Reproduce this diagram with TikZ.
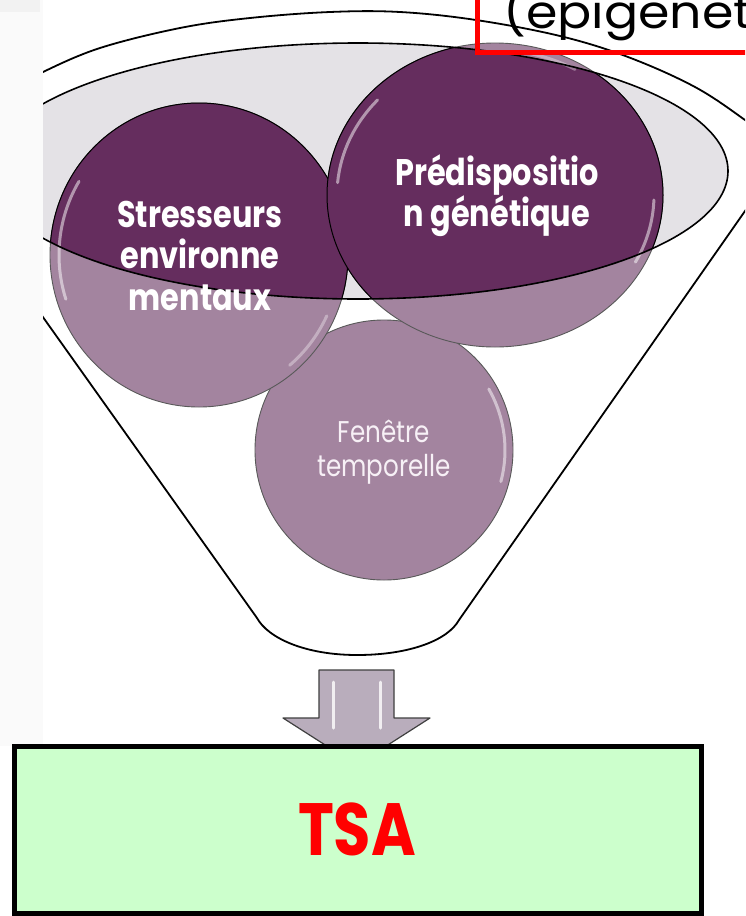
\documentclass[tikz,border=0pt]{standalone}
\usepackage{fontspec}
\newfontfamily\gothic{Poppins}[FakeStretch=0.82]
\newfontfamily\gothicw{Poppins}[FakeStretch=1.1]
\definecolor{darkplum}{HTML}{652D5E}
\definecolor{lightplum}{HTML}{A3849F}
\definecolor{rimgrey}{HTML}{E4E2E6}
\definecolor{stripgrey}{HTML}{FAFAFA}
\definecolor{arrowgrey}{HTML}{B9ADBC}
\definecolor{boxgreen}{HTML}{CCFFCC}
\definecolor{palelabel}{HTML}{F7F0F6}
\tikzset{
  funnelline/.style={draw=black, line width=1.8pt},
  balloutline/.style={draw=black!65, line width=0.9pt},
  shine/.style={draw=white, line width=3pt, opacity=0.5, line cap=round},
  boldlabel/.style={text=white, font=\gothic\bfseries\fontsize{37}{41}\selectfont, anchor=base, inner sep=0pt},
  thinlabel/.style={text=palelabel, font=\gothic\fontsize{30}{34}\selectfont, anchor=base, inner sep=0pt},
}
\begin{document}
\begin{tikzpicture}[x=1pt,y=-1pt]
\useasboundingbox (0,0) rectangle (745,916);
\clip (0,0) rectangle (745,916);
\fill[white] (0,0) rectangle (745,916);
\fill[stripgrey] (0,0) rectangle (43,746);
\fill[black!5] (0,0) rectangle (40,12);
\coordinate (cs) at (199,255);
\coordinate (cp) at (495,195);
\coordinate (cf) at (384,450);
\coordinate (co) at (358,171);
\begin{scope}
  \clip (43,0) rectangle (745,746);
  % opening of the funnel
  \fill[rimgrey] (co) ellipse [x radius=370, y radius=128];
  % balls, light part
  \path[fill=lightplum, balloutline] (cf) ellipse [x radius=129, y radius=130];
  \path[fill=lightplum, balloutline] (cs) ellipse [x radius=149, y radius=152];
  \path[fill=lightplum, balloutline] (cp) ellipse [x radius=168, y radius=152];
  % balls, part seen through the opening
  \begin{scope}
    \clip (co) ellipse [x radius=370, y radius=128];
    \path[fill=darkplum, draw=black, line width=1pt] (cs) ellipse [x radius=149, y radius=152];
    \path[fill=darkplum, draw=black, line width=1pt] (cp) ellipse [x radius=168, y radius=152];
  \end{scope}
  % shine
  \draw[shine] (cs) ++(211:140 and 143) arc[start angle=211, end angle=162, x radius=140, y radius=143];
  \draw[shine, opacity=0.35] (cs) ++(25:141 and 144) arc[start angle=25, end angle=50, x radius=141, y radius=144];
  \draw[shine] (cp) ++(222:158 and 142) arc[start angle=222, end angle=185, x radius=158, y radius=142];
  \draw[shine] (cp) ++(2:159 and 143) arc[start angle=2, end angle=28, x radius=159, y radius=143];
  \draw[shine, opacity=0.35] (cp) ++(-60:160 and 145) arc[start angle=-60, end angle=-80, x radius=160, y radius=145];
  \draw[shine] (cf) ++(-30:121 and 122) arc[start angle=-30, end angle=15, x radius=121, y radius=122];
  % opening outline
  \draw[funnelline, line width=1.6pt] (co) ellipse [x radius=370, y radius=128];
  % rim
  \draw[funnelline] plot[smooth, tension=0.6] coordinates {(20,86) (43,72) (100,48) (180,28) (250,18) (330,12) (400,12) (476,20) (560,36) (628,57) (695,87) (745,120) (770,140)};
  % body
  \draw[funnelline, line join=round]
    (13,275) -- (257,618) .. controls (268,638) and (305,655) .. (357,655)
    .. controls (410,655) and (448,640) .. (459,620) -- (773,171);
\end{scope}
% labels inside the balls
\node[boldlabel] (s1) at (200,227) {Stresseurs};
\node[boldlabel] (s2) at (200,268) {environne};
\node[boldlabel] (s3) at (200,310) {mentaux};
\node[boldlabel] (p1) at (497,185) {Prédispositio};
\node[boldlabel] (p2) at (497,226) {n génétique};
\node[thinlabel] (f1) at (384,442) {Fenêtre};
\node[thinlabel] (f2) at (384,476) {temporelle};
% arrow
\path[fill=arrowgrey, draw=black!75, line width=1.2pt, line join=round]
  (319,670) -- (394,670) -- (394,718) -- (430,718) -- (356.5,765) -- (283,718) -- (319,718) -- cycle;
\draw[draw=white, line width=3pt, opacity=0.8, line cap=round] (333,682) -- (333,728);
\draw[draw=white, line width=3pt, opacity=0.8, line cap=round] (380,682) -- (380,728);
% result box
\node[draw=black, line width=5pt, fill=boxgreen, minimum width=687pt, minimum height=167pt, inner sep=0pt] (tsa) at (357.5,829.5) {};
\node[text=red, font=\gothic\bfseries\fontsize{74}{80}\selectfont, anchor=base, inner sep=0pt] (tsalabel) at (357,855) {TSA};
% red frame with cut-off caption
\draw[red, line width=5pt] (477,-10) -- (477,52) -- (760,52);
\node[font=\gothicw\fontsize{46}{50}\selectfont, anchor=base west, inner sep=0pt] (epi) at (503,28) {(epigenet};
\end{tikzpicture}
\end{document}
